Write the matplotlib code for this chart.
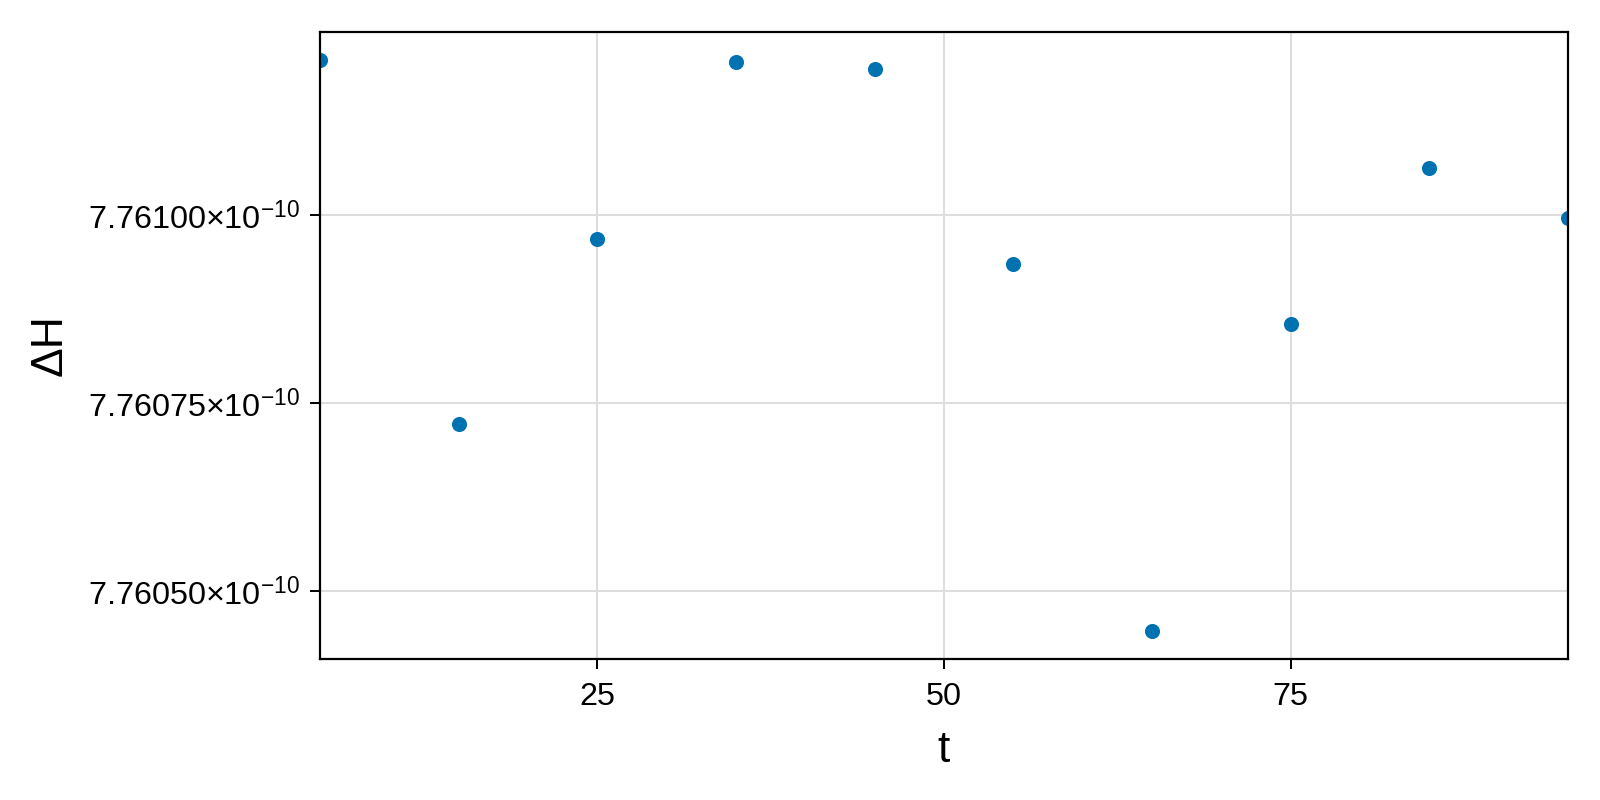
import matplotlib
matplotlib.use("Agg")
import matplotlib.pyplot as plt

# ---- data ----
t = [5, 15, 25, 35, 45, 55, 65, 75, 85, 95]
dH = [7.7612057e-10, 7.7607223e-10, 7.7609689e-10, 7.7612037e-10, 7.7611940e-10,
      7.7609357e-10, 7.7604479e-10, 7.7608549e-10, 7.7610629e-10, 7.7609959e-10]
xticks = [25, 50, 75]
xtick_labels = ["25", "50", "75"]
yticks = [7.76050e-10, 7.76075e-10, 7.76100e-10]
ytick_labels = ["7.76050×10$^{-10}$", "7.76075×10$^{-10}$", "7.76100×10$^{-10}$"]
xlim = (5, 95)

plt.rcParams['font.family'] = ['Liberation Sans', 'DejaVu Sans']
plt.rcParams['mathtext.fontset'] = 'custom'
plt.rcParams['mathtext.rm'] = 'Liberation Sans'
plt.rcParams['mathtext.it'] = 'Liberation Sans:italic'
plt.rcParams['mathtext.bf'] = 'Liberation Sans:bold'

fig = plt.figure(figsize=(16, 8), dpi=100)
ax = fig.add_axes([320/1600, 1 - 659/800, (1568-320)/1600, (659-32)/800])

ax.scatter(t, dH, s=118, color='#0072B2', linewidths=0, zorder=3)

ax.set_xlim(*xlim)
ax.margins(y=0.05)
ax.set_xticks(xticks)
ax.set_xticklabels(xtick_labels)
ax.set_yticks(yticks)
ax.set_yticklabels(ytick_labels)

ax.grid(True, color='#DDDDDD', linewidth=1.4, zorder=0)
ax.set_axisbelow(True)
for sp in ax.spines.values():
    sp.set_linewidth(1.6)
    sp.set_color('black')
    sp.set_zorder(4)

ax.tick_params(axis='both', direction='out', length=7.2, width=1.4,
               labelsize=23.3, color='black')
ax.tick_params(axis='x', pad=9.5)
ax.tick_params(axis='y', pad=7)

ax.set_xlabel('t', fontsize=32, labelpad=13)
ax.set_ylabel('ΔH', fontsize=32, labelpad=13)

fig.savefig('out.png', dpi=100)
